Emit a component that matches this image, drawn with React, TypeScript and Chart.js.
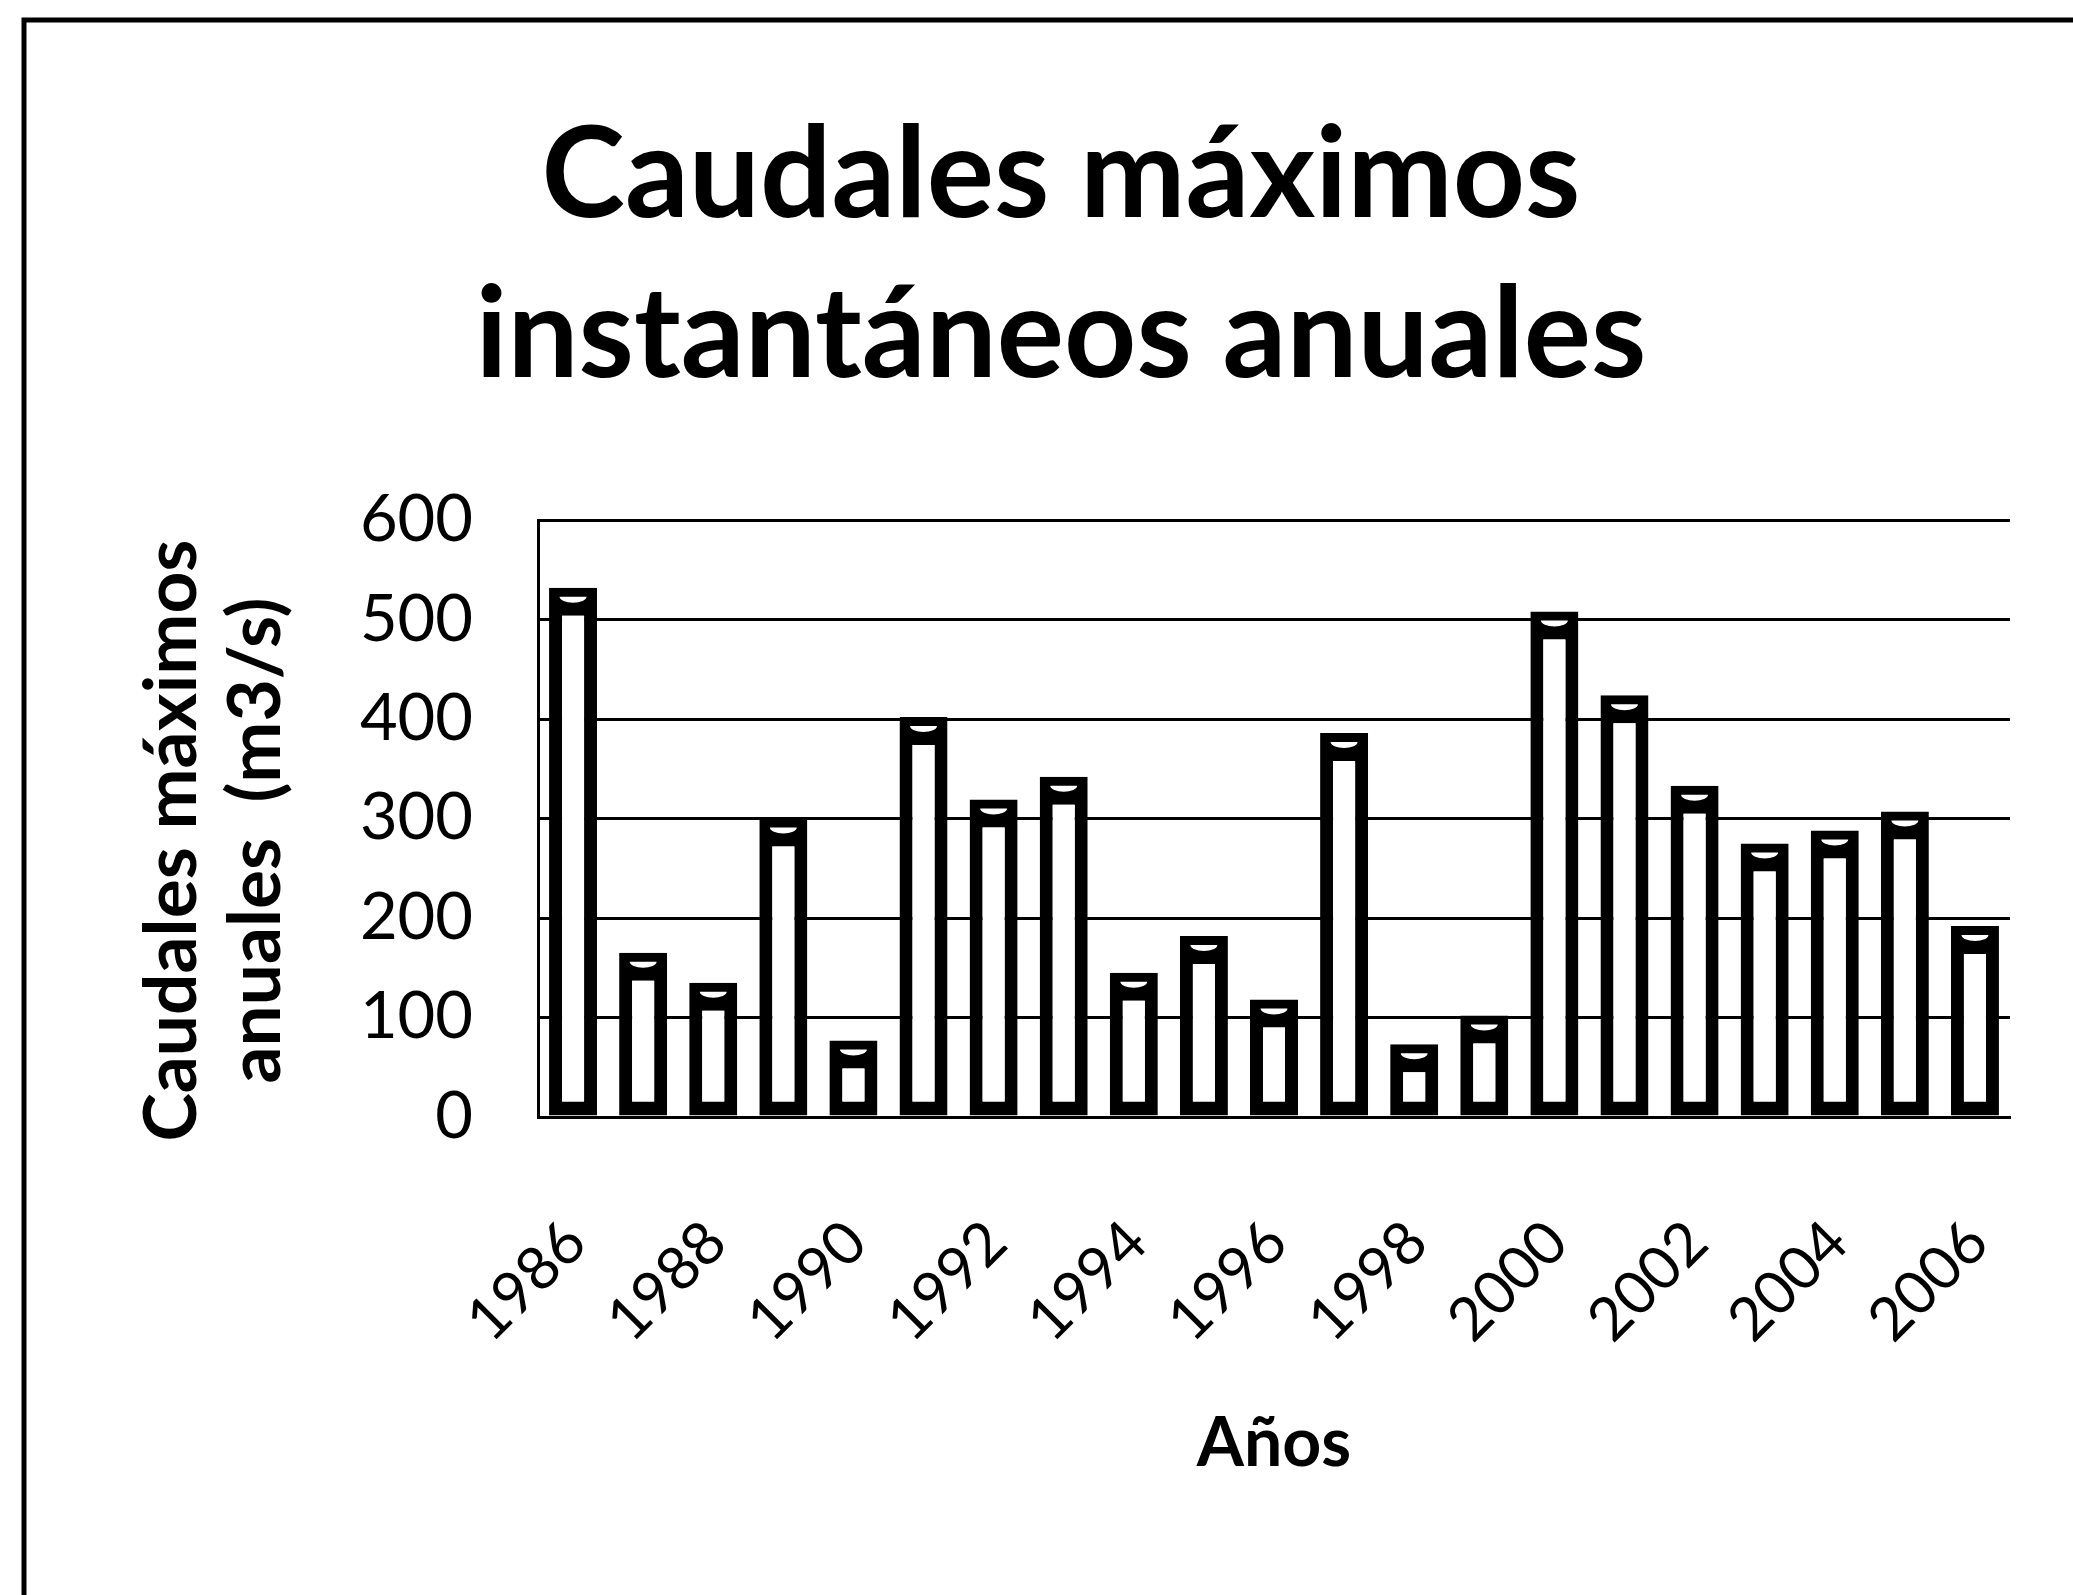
import React, { useEffect, useRef } from 'react';
import { Chart, registerables } from 'chart.js';

Chart.register(...registerables);

// ---- Data ----
const years = [
  '1986', '1987', '1988', '1989', '1990', '1991', '1992', '1993', '1994', '1995', '1996',
  '1997', '1998', '1999', '2000', '2001', '2002', '2003', '2004', '2005', '2006',
];
const caudales = [
  532, 165, 135, 300, 77, 402, 319, 342, 145, 182, 118,
  386, 73, 102, 508, 424, 333, 275, 288, 307, 192,
];
const xTickLabels = [
  '1986', '', '1988', '', '1990', '', '1992', '', '1994', '', '1996',
  '', '1998', '', '2000', '', '2002', '', '2004', '', '2006',
];
const chartTitle = ['Caudales máximos', 'instantáneos anuales'];
const yAxisTitle = ['Caudales máximos', 'anuales  (m3/s)'];
const xAxisTitle = 'Años';
const yMin = 0;
const yMax = 600;
const yStep = 100;

export default function App() {
  const ref = useRef<HTMLCanvasElement | null>(null);

  useEffect(() => {
    document.body.style.margin = '0';
    document.body.style.overflow = 'hidden';
    const canvas = ref.current;
    if (!canvas) return;

    const framePlugin = {
      id: 'frame',
      beforeDraw(chart: any) {
        const ctx = chart.ctx;
        ctx.save();
        ctx.fillStyle = '#ffffff';
        ctx.fillRect(0, 0, chart.width, chart.height);
        ctx.strokeStyle = '#000000';
        ctx.lineWidth = 5;
        ctx.beginPath();
        ctx.moveTo(24, chart.height);
        ctx.lineTo(24, 20);
        ctx.lineTo(chart.width, 20);
        ctx.stroke();
        ctx.restore();
      },
    };

    const capPlugin = {
      id: 'caps',
      afterDatasetsDraw(chart: any) {
        const meta = chart.getDatasetMeta(0);
        const ctx = chart.ctx;
        ctx.save();
        ctx.fillStyle = '#ffffff';
        meta.data.forEach((bar: any) => {
          ctx.beginPath();
          ctx.ellipse(bar.x, bar.y + 9, bar.width * 0.28, 6, 0, 0, Math.PI);
          ctx.fill();
        });
        ctx.restore();
      },
    };

    // Vertical axis title (two lines, rotated), placed beside the y scale
    const yTitlePlugin = {
      id: 'yTitle',
      afterDraw(chart: any) {
        const { ctx, chartArea } = chart;
        const cy = (chartArea.top + chartArea.bottom) / 2 + 22;
        ctx.save();
        ctx.fillStyle = '#000000';
        ctx.font = 'bold 73px Lato';
        ctx.textAlign = 'center';
        ctx.textBaseline = 'alphabetic';
        yAxisTitle.forEach((line, i) => {
          ctx.save();
          ctx.translate(196 + i * 84, cy);
          ctx.rotate(-Math.PI / 2);
          ctx.fillText(line, 0, 0);
          ctx.restore();
        });
        ctx.restore();
      },
    };

    const chart = new Chart(canvas, {
      type: 'bar',
      data: {
        labels: years,
        datasets: [
          {
            label: 'Caudales máximos anuales (m3/s)',
            data: caudales,
            backgroundColor: '#ffffff',
            borderColor: '#000000',
            borderWidth: { top: 28, right: 13, bottom: 14, left: 13 },
            borderSkipped: false,
            barPercentage: 0.685,
            categoryPercentage: 1,
          },
        ],
      },
      options: {
        responsive: false,
        animation: false,
        devicePixelRatio: 1,
        layout: { padding: { left: 112, right: 63, top: 0, bottom: 0 } },
        plugins: {
          legend: { display: false },
          tooltip: { enabled: false },
          title: {
            display: true,
            text: chartTitle,
            color: '#000000',
            font: { family: 'Lato', size: 126, weight: 'bold', lineHeight: 1.27 },
            padding: { top: 96, bottom: 104 },
          },
        },
        scales: {
          x: {
            grid: { display: false, drawTicks: false },
            border: { display: true, color: '#000000', width: 3 },
            ticks: {
              color: '#000000',
              font: { family: 'Lato', size: 60 },
              autoSkip: false,
              maxRotation: 45,
              minRotation: 45,
              padding: 90,
              labelOffset: 3,
              callback: (_v: any, i: number) => xTickLabels[i],
            },
            title: {
              display: true,
              text: xAxisTitle,
              color: '#000000',
              font: { family: 'Lato', size: 68, weight: 'bold', lineHeight: 1.2 },
              padding: { top: 0, bottom: 110 },
            },
            afterFit: (s: any) => {
              s.height = 478;
              s.paddingLeft = 0;
              s.paddingRight = 0;
            },
          },
          y: {
            min: yMin,
            max: yMax,
            ticks: {
              stepSize: yStep,
              color: '#000000',
              font: { family: 'Lato', size: 65 },
              padding: 65,
            },
            grid: { color: '#000000', lineWidth: 3, drawTicks: false },
            border: { display: true, color: '#000000', width: 3 },
            title: { display: false, text: yAxisTitle },
            afterFit: (s: any) => {
              s.width = 426;
            },
          },
        },
      },
      plugins: [framePlugin, capPlugin, yTitlePlugin],
    } as any);

    return () => {
      chart.destroy();
    };
  }, []);

  return <canvas ref={ref} width={2073} height={1595} style={{ display: 'block' }} />;
}
